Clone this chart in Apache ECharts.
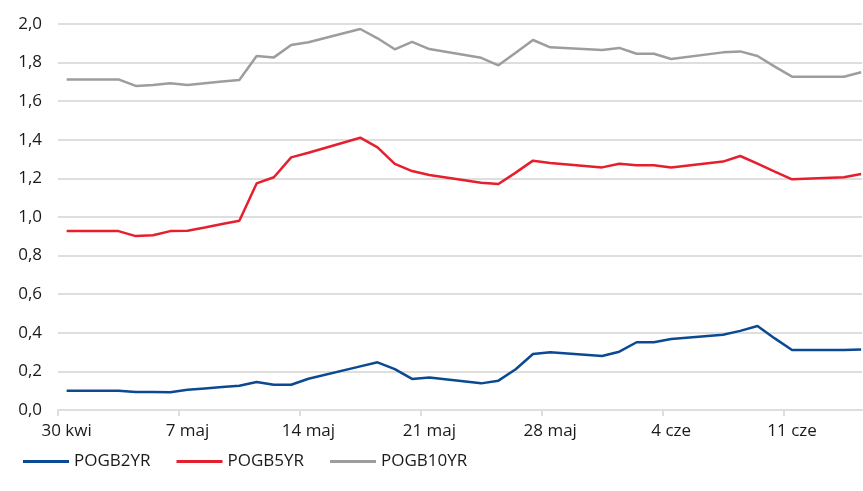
<!DOCTYPE html>
<html>
<head>
<meta charset="utf-8">
<script src="https://cdn.jsdelivr.net/npm/echarts@6/dist/echarts.min.js"></script>
<style>
  html, body { margin: 0; padding: 0; background: #ffffff; }
  #chart { width: 863px; height: 491px; }
</style>
</head>
<body>
<div id="chart"></div>
<script>
// Business days, counted in calendar days from 30 April
const dayOffsets = [0, 3, 4, 5, 6, 7, 8, 9, 10, 11, 12, 13, 14, 17, 18, 19, 20, 21,
  24, 25, 26, 27, 28, 31, 32, 33, 34, 35, 38, 39, 40, 41, 42, 45, 46];

// Weekly tick labels (every 7 days from 30 April)
const xTickLabels = ['30 kwi', '7 maj', '14 maj', '21 maj', '28 maj', '4 cze', '11 cze'];

const pogb2yr = [0.100, 0.100, 0.093, 0.093, 0.092, 0.105, 0.112, 0.119, 0.126, 0.145, 0.131, 0.131,
  0.162, 0.226, 0.247, 0.212, 0.161, 0.168, 0.138, 0.152, 0.211, 0.290, 0.299, 0.280, 0.302,
  0.351, 0.351, 0.368, 0.390, 0.410, 0.435, 0.371, 0.311, 0.311, 0.314];

const pogb5yr = [0.927, 0.927, 0.901, 0.905, 0.927, 0.929, 0.946, 0.964, 0.981, 1.174, 1.206, 1.309,
  1.333, 1.411, 1.361, 1.275, 1.238, 1.218, 1.178, 1.171, 1.230, 1.292, 1.280, 1.257, 1.276,
  1.268, 1.268, 1.256, 1.287, 1.316, 1.276, 1.235, 1.195, 1.206, 1.223];

const pogb10yr = [1.713, 1.713, 1.679, 1.684, 1.693, 1.684, 1.693, 1.702, 1.710, 1.834, 1.827, 1.891,
  1.905, 1.974, 1.926, 1.869, 1.907, 1.870, 1.825, 1.786, 1.851, 1.917, 1.879, 1.865, 1.876,
  1.846, 1.846, 1.819, 1.853, 1.858, 1.834, 1.779, 1.727, 1.727, 1.750];

const seriesNames = ['POGB2YR', 'POGB5YR', 'POGB10YR'];
const seriesColors = ['#0b4a93', '#e51f2e', '#9d9d9d'];

// each day's point (and each week label) sits in the middle of its day slot
const toPoints = vals => vals.map((v, i) => [dayOffsets[i] + 0.5, v]);
const tickDays = xTickLabels.map((_, k) => k * 7);
const labelDays = tickDays.map(d => d + 0.5);

const font = '"Open Sans", "Noto Sans", sans-serif';
const textColor = '#1a1a1a';
const gridColor = '#dedede';

const chart = echarts.init(document.getElementById('chart'), null, { renderer: 'canvas' });
chart.setOption({
  animation: false,
  backgroundColor: '#ffffff',
  grid: { left: 58, right: 1, top: 24, bottom: 81, containLabel: false },
  legend: {
    left: 23,
    top: 453,
    padding: 0,
    icon: 'rect',
    itemWidth: 46,
    itemHeight: 3,
    itemGap: 26,
    textStyle: { fontFamily: font, fontSize: 17, color: textColor },
    data: seriesNames
  },
  xAxis: {
    type: 'value',
    min: 0,
    max: 46.55,
    axisLine: { show: true, lineStyle: { color: gridColor, width: 2 } },
    axisTick: {
      show: true, length: 6, customValues: tickDays,
      lineStyle: { color: gridColor, width: 2 }
    },
    splitLine: { show: false },
    axisLabel: {
      margin: 13,
      fontFamily: font,
      fontSize: 17,
      color: textColor,
      customValues: labelDays,
      formatter: v => xTickLabels[Math.round((v - 0.5) / 7)]
    }
  },
  yAxis: {
    type: 'value',
    min: 0,
    max: 2,
    interval: 0.2,
    axisLine: { show: false },
    axisTick: { show: false },
    splitLine: { show: true, lineStyle: { color: gridColor, width: 2 } },
    axisLabel: {
      margin: 16,
      fontFamily: font,
      fontSize: 17,
      color: textColor,
      formatter: v => v.toFixed(1).replace('.', ',')
    }
  },
  series: [pogb2yr, pogb5yr, pogb10yr].map((vals, i) => ({
    name: seriesNames[i],
    type: 'line',
    data: toPoints(vals),
    symbol: 'none',
    color: seriesColors[i],
    lineStyle: { width: 2.5, color: seriesColors[i] }
  }))
});
</script>
</body>
</html>
